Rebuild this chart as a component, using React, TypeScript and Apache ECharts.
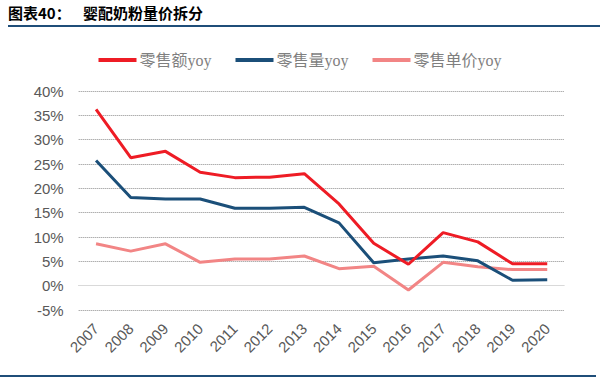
import React, { useEffect, useRef } from "react";
import * as echarts from "echarts";

const years = ["2007", "2008", "2009", "2010", "2011", "2012", "2013", "2014", "2015", "2016", "2017", "2018", "2019", "2020"];
const retailSales = [36.2, 26.3, 27.6, 23.3, 22.2, 22.3, 23.0, 16.8, 8.7, 4.4, 10.9, 9.0, 4.5, 4.5];
const retailVolume = [25.7, 18.1, 17.8, 17.8, 15.9, 15.9, 16.1, 12.9, 4.7, 5.5, 6.1, 5.1, 1.1, 1.2];
const retailPrice = [8.6, 7.1, 8.6, 4.8, 5.5, 5.5, 6.1, 3.5, 4.0, -0.9, 4.8, 3.9, 3.3, 3.3];
const seriesNames = ["零售额yoy", "零售量yoy", "零售单价yoy"];
const titleLabel = "图表40：";
const titleText = "婴配奶粉量价拆分";

export default function App() {
  const ref = useRef<HTMLDivElement>(null);
  useEffect(() => {
    if (!ref.current) return;
    const chart = echarts.init(ref.current, undefined, { renderer: "svg" });
    const legendFont = "'Liberation Serif', 'Noto Sans CJK SC', serif";
    chart.setOption({
      animation: false,
      backgroundColor: "#ffffff",
      graphic: [
        {
          type: "text",
          left: 8,
          top: 5,
          style: { text: titleLabel, font: "bold 15px 'Noto Sans CJK SC', sans-serif", fill: "#000" },
        },
        {
          type: "text",
          left: 83,
          top: 5,
          style: { text: titleText, font: "bold 15px 'Noto Sans CJK SC', sans-serif", fill: "#000" },
        },
        {
          type: "line",
          shape: { x1: 8, y1: 26, x2: 600, y2: 26 },
          style: { stroke: "#1f4e79", lineWidth: 2 },
        },
        {
          type: "line",
          shape: { x1: 0, y1: 376, x2: 596, y2: 376 },
          style: { stroke: "#1f4e79", lineWidth: 2 },
        },
      ],
      legend: {
        top: 47,
        left: "center",
        itemWidth: 38,
        itemHeight: 4,
        itemGap: 24,
        icon: "rect",
        textStyle: { fontSize: 16, color: "#7f7f7f", fontFamily: legendFont, padding: [0, 0, 0, -2] },
        data: seriesNames,
      },
      grid: { left: 78.7, right: 35.4, top: 91, bottom: 71, containLabel: false },
      xAxis: {
        type: "category",
        data: years,
        boundaryGap: true,
        axisLine: { show: false },
        axisTick: { show: false },
        axisLabel: {
          rotate: 45,
          fontSize: 15,
          color: "#595959",
          fontFamily: "Arial, 'Liberation Sans', sans-serif",
          margin: 16,
          interval: 0,
        },
      },
      yAxis: {
        type: "value",
        min: -5,
        max: 40,
        interval: 5,
        axisLine: { show: false },
        axisTick: { show: false },
        axisLabel: {
          formatter: "{value}%",
          fontSize: 15,
          color: "#595959",
          fontFamily: "Arial, 'Liberation Sans', sans-serif",
          margin: 15,
        },
        splitLine: { show: true, lineStyle: { color: "#8c8c8c", type: [1, 1], width: 1 } },
      },
      series: [
        {
          name: seriesNames[0],
          type: "line",
          data: retailSales,
          symbol: "none",
          lineStyle: { color: "#ee1c25", width: 3 },
          itemStyle: { color: "#ee1c25" },
          z: 5,
          markLine: {
            silent: true,
            symbol: "none",
            label: { show: false },
            lineStyle: { color: "#d9d9d9", type: "solid", width: 1 },
            data: [{ yAxis: 0 }],
            z: 1,
          },
        },
        {
          name: seriesNames[1],
          type: "line",
          data: retailVolume,
          symbol: "none",
          lineStyle: { color: "#1b4f79", width: 3 },
          itemStyle: { color: "#1b4f79" },
          z: 4,
        },
        {
          name: seriesNames[2],
          type: "line",
          data: retailPrice,
          symbol: "none",
          lineStyle: { color: "#f28585", width: 3 },
          itemStyle: { color: "#f28585" },
          z: 3,
        },
      ],
    });
    return () => chart.dispose();
  }, []);
  return <div ref={ref} style={{ position: "fixed", left: 0, top: 0, width: 600, height: 381 }} />;
}
